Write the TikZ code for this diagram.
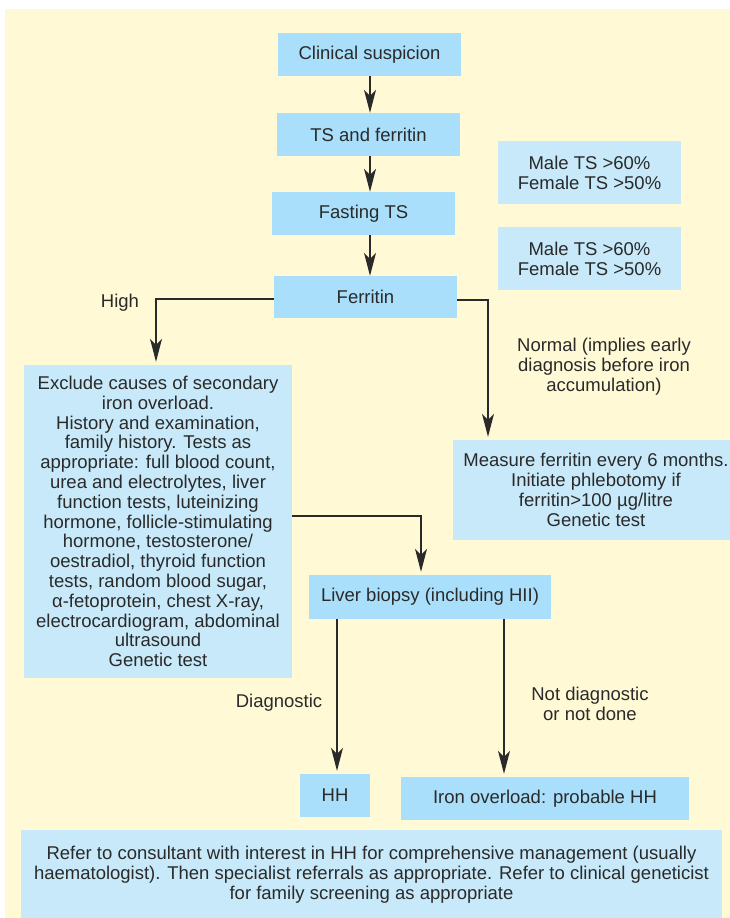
\documentclass[tikz,border=0pt]{standalone}
\usepackage{fontspec}
\setmainfont{Liberation Sans}
\usetikzlibrary{arrows.meta}
\definecolor{bg}{HTML}{FFF9D6}
\definecolor{dblue}{HTML}{A9DFFA}
\definecolor{lblue}{HTML}{C7E9F9}
\definecolor{ink}{HTML}{2A2A2A}
\begin{document}
\begin{tikzpicture}[x=1pt,y=-1pt,
  txt/.style={font=\fontsize{18.5}{19.8}\selectfont, text=ink, align=center, inner sep=0pt},
  dbox/.style={txt, fill=dblue, rectangle},
  lbox/.style={txt, fill=lblue, rectangle},
  conn/.style={draw=ink, line width=1.2pt},
  arr/.style={conn, -{Stealth[length=23pt,width=12pt,inset=6pt]}},
  arrs/.style={arr, shorten >=3pt}
]
\useasboundingbox (0,0) rectangle (730,918);
\clip (0,0) rectangle (730,918);
\fill[bg] (5,9) rectangle (740,930);

% main column
\node[dbox, minimum width=183pt, minimum height=43pt] (cs) at (369.5,54.5) {Clinical suspicion};
\node[dbox, minimum width=183pt, minimum height=43pt] (tsf) at (368.5,134.5) {TS and ferritin};
\node[dbox, minimum width=183pt, minimum height=43pt] (fts) at (363.5,213.5) {Fasting TS};
\node[dbox, minimum width=183pt, minimum height=42pt] (fer) at (365.5,297) {Ferritin};

% side notes
\node[lbox, minimum width=183pt, minimum height=63pt] (m1) at (589.5,172.5) {Male TS >60\%\\Female TS >50\%};
\node[lbox, minimum width=183pt, minimum height=63pt] (m2) at (589.5,258.5) {Male TS >60\%\\Female TS >50\%};

% branches
\node[lbox, minimum width=268pt, minimum height=313pt] (exc) at (158,521.5) {Exclude causes of secondary\\iron overload.\\History and examination,\\family history. Tests as\\appropriate: full blood count,\\urea and electrolytes, liver\\function tests, luteinizing\\hormone, follicle-stimulating\\hormone, testosterone/\\oestradiol, thyroid function\\tests, random blood sugar,\\α-fetoprotein, chest X-ray,\\electrocardiogram, abdominal\\ultrasound\\Genetic test};
\node[lbox, minimum width=286pt, minimum height=100pt] (meas) at (596,490) {Measure ferritin every 6 months.\\Initiate phlebotomy if\\ferritin>100 µg/litre\\Genetic test};
\node[dbox, minimum width=242pt, minimum height=44pt] (liv) at (430,597) {Liver biopsy (including HII)};
\node[dbox, minimum width=70pt, minimum height=43pt] (hh) at (335,795.5) {HH};
\node[dbox, minimum width=288pt, minimum height=43pt] (iro) at (545,798.5) {Iron overload: probable HH};
\node[lbox, minimum width=701pt, minimum height=90pt] (ref) at (371.5,875) {Refer to consultant with interest in HH for comprehensive management (usually\\haematologist). Then specialist referrals as appropriate. Refer to clinical geneticist\\for family screening as appropriate};

% labels
\node[txt] (lhigh) at (120,303) {High};
\node[txt] (lnorm) at (604,367) {Normal (implies early\\diagnosis before iron\\accumulation)};
\node[txt] (ldiag) at (279,703) {Diagnostic};
\node[txt] (lnot) at (590,704) {Not diagnostic\\or not done};

% connector guides
\coordinate (ax) at (370,0);
\coordinate (hl) at (156,299);
\coordinate (hr) at (488,300);
\coordinate (el) at (421,516);
\coordinate (lh) at (337,0);
\coordinate (li) at (504,0);

\draw[arr] (cs.south -| ax) -- (tsf.north -| ax);
\draw[arr] (tsf.south -| ax) -- (fts.north -| ax);
\draw[arr] (fts.south -| ax) -- (fer.north -| ax);
\draw[arrs] (fer.west |- hl) -| (exc.north -| hl);
\draw[arrs] (fer.east |- hr) -| (meas.north -| hr);
\draw[arrs] (exc.east |- el) -| (liv.north -| el);
\draw[arrs] (liv.south -| lh) -- (hh.north -| lh);
\draw[arrs] (liv.south -| li) -- (iro.north -| li);
\end{tikzpicture}
\end{document}
